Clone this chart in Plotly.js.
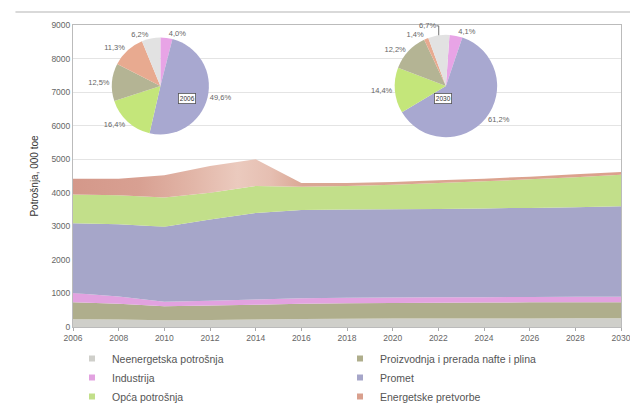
<!DOCTYPE html>
<html>
<head>
<meta charset="utf-8">
<script src="https://cdn.plot.ly/plotly-3.0.1.min.js"></script>
<style>html,body{margin:0;padding:0;background:#fff;}#chart{width:630px;height:405px;}</style>
</head>
<body>
<div id="chart"></div>
<script>
// Years on the x axis
const years = [2006, 2008, 2010, 2012, 2014, 2016, 2018, 2020, 2022, 2024, 2026, 2028, 2030];

// Series names (stack order, bottom to top)
const seriesNames = [
  "Neenergetska potrošnja",
  "Proizvodnja i prerada nafte i plina",
  "Industrija",
  "Promet",
  "Opća potrošnja",
  "Energetske pretvorbe"
];

// Values, 000 toe
const neenergetska = [230, 220, 200, 210, 220, 240, 245, 250, 250, 255, 255, 260, 260];
const proizvodnja  = [510, 470, 420, 430, 440, 450, 460, 465, 470, 475, 480, 480, 480];
const industrija   = [270, 220, 130, 140, 160, 170, 165, 165, 165, 160, 160, 160, 160];
const promet       = [2080, 2150, 2240, 2420, 2580, 2630, 2630, 2630, 2635, 2645, 2655, 2665, 2700];
const opca         = [860, 870, 870, 800, 800, 690, 700, 730, 770, 805, 850, 895, 940];
const pretvorbe    = [470, 490, 660, 800, 800, 110, 90, 80, 80, 80, 80, 90, 80];

// Pie shares (%) for 2006 and 2030, clockwise from top
const pieLabels = ["Industrija", "Promet", "Opća potrošnja", "Proizvodnja i prerada nafte i plina", "Energetske pretvorbe", "Neenergetska potrošnja"];
const pie2006 = [4.0, 49.6, 16.4, 12.5, 11.3, 6.2];
const pie2030 = [4.1, 61.2, 14.4, 12.2, 1.4, 6.7];
const pieYears = ["2006", "2030"];

const areaColors = ["#cfcfca", "#afae8c", "#e2a2e0", "#a6a6c9", "#c2df8a", "#d9a08e"];
const pieColorsMap = {
  "Industrija": "#e8a4e6",
  "Promet": "#a8a8d0",
  "Opća potrošnja": "#c4e67a",
  "Proizvodnja i prerada nafte i plina": "#b4b494",
  "Energetske pretvorbe": "#e8aa90",
  "Neenergetska potrošnja": "#e2e2e2"
};

const seriesData = [neenergetska, proizvodnja, industrija, promet, opca, pretvorbe];
const traces = [];
seriesData.forEach((vals, i) => {
  const t = {
    type: "scatter", mode: "none", x: years, y: vals, stackgroup: "one",
    fillcolor: areaColors[i], line: {width: 0}, showlegend: false, name: seriesNames[i],
    hoverinfo: "x+y+name"
  };
  if (i === 5) {
    t.fillgradient = {
      type: "horizontal",
      colorscale: [[0, "#d4988a"], [0.12, "#d8a092"], [0.22, "#e2b6a8"], [0.3, "#ebcabe"],
                   [0.36, "#e6bfb2"], [0.42, "#daa794"], [1, "#dca08c"]]
    };
  }
  traces.push(t);
});
// legend entries (square markers)
seriesNames.forEach((n, i) => {
  traces.push({
    type: "scatter", mode: "markers", x: [null], y: [null], name: n,
    marker: {symbol: "square", size: 6, color: areaColors[i]}, showlegend: true
  });
});

const pieCommon = {
  type: "pie", sort: false, direction: "clockwise", textposition: "outside",
  texttemplate: "%{percent:.1%}", showlegend: false, hole: 0,
  textfont: {size: 7.5, color: "#666", family: "Liberation Sans, Arial"},
  marker: {colors: pieLabels.map(l => pieColorsMap[l]), line: {width: 0}}
};
traces.push(Object.assign({}, pieCommon, {
  labels: pieLabels, values: pie2006, rotation: 0,
  domain: {x: [0.071, 0.248], y: [0.636, 0.960]}
}));
traces.push(Object.assign({}, pieCommon, {
  labels: pieLabels, values: pie2030, rotation: 4,
  domain: {x: [0.587, 0.774], y: [0.626, 0.970]}
}));

const layout = {
  width: 630, height: 405,
  margin: {l: 73, r: 9, t: 25, b: 78, autoexpand: false},
  paper_bgcolor: "#fff", plot_bgcolor: "#fff",
  separators: ",.",
  font: {family: "Liberation Sans, Arial, sans-serif", color: "#555"},
  xaxis: {
    range: [2006, 2030], tickvals: years, ticktext: years.map(String),
    tickfont: {size: 8.5, color: "#666"}, ticks: "outside", ticklen: 3, tickcolor: "#aaa",
    ticklabeloverflow: "allow",
    showgrid: false, showline: true, linecolor: "#bbb", mirror: true, zeroline: false
  },
  yaxis: {
    range: [0, 9000], dtick: 1000, tickfont: {size: 8.5, color: "#666"},
    showgrid: true, gridcolor: "#e4e4e4", gridwidth: 1,
    showline: true, linecolor: "#bbb", mirror: true, zeroline: false,
    title: {text: "Potrošnja, 000 toe", font: {size: 10, color: "#333"}, standoff: 10}
  },
  legend: {
    orientation: "h", xref: "container", yref: "container",
    x: 72 / 630, y: 1 - 344 / 405, xanchor: "left", yanchor: "top",
    entrywidth: 223, entrywidthmode: "pixels", traceorder: "normal",
    font: {size: 10.5, color: "#555"}, itemwidth: 30, tracegroupgap: 0
  },
  shapes: [{
    type: "line", xref: "paper", yref: "paper", x0: -0.105, x1: 1.02, y0: 1.043, y1: 1.043,
    line: {color: "#ccc", width: 1.5}
  }],
  annotations: [
    {xref: "paper", yref: "paper", x: (178 - 73) / 548, y: (327 - 93) / 302, text: pieYears[0], showarrow: false,
     font: {size: 6.5, color: "#333"}, bgcolor: "#fff", bordercolor: "#555", borderwidth: 0.8, borderpad: 1},
    {xref: "paper", yref: "paper", x: (452 - 73) / 548, y: (327 - 93) / 302, text: pieYears[1], showarrow: false,
     font: {size: 6.5, color: "#333"}, bgcolor: "#fff", bordercolor: "#555", borderwidth: 0.8, borderpad: 1}
  ]
};

Plotly.newPlot("chart", traces, layout, {displayModeBar: false, staticPlot: true});
</script>
</body>
</html>
